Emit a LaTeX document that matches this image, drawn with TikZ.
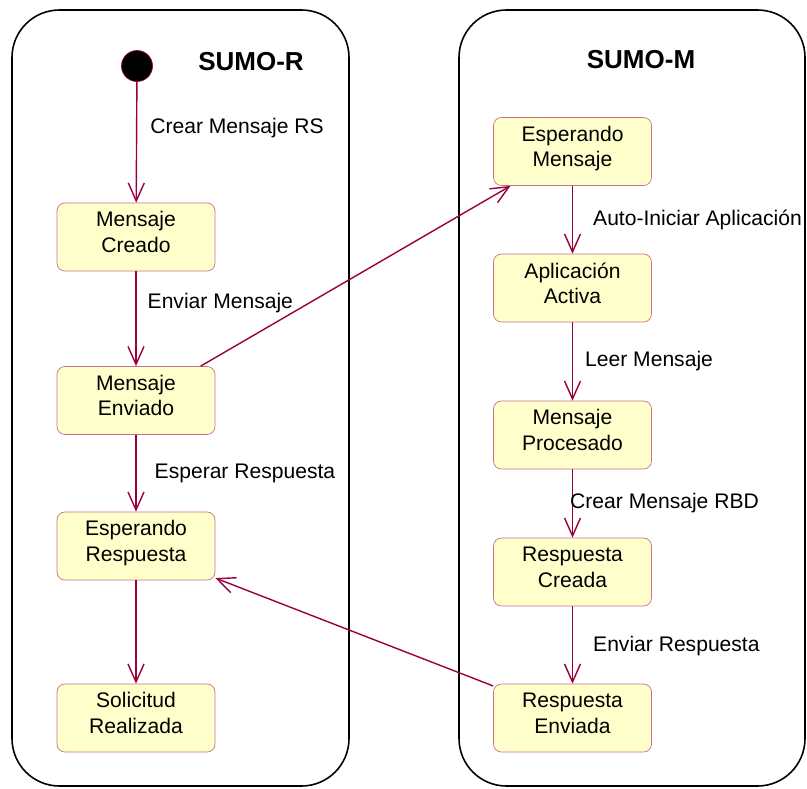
\documentclass[tikz,border=0pt]{standalone}
\usepackage{fontspec}
\setmainfont{Liberation Sans}
\usepackage{xcolor}
\usetikzlibrary{arrows.meta}
\definecolor{transred}{HTML}{99003D}
\definecolor{stateborder}{HTML}{C8708A}
\definecolor{statefill}{HTML}{FFFFCC}
\tikzstyle{statebox} = [draw=stateborder, fill=statefill, rectangle,
rounded corners=4.5pt, minimum width=3.16cm, minimum height=1.36cm,
align=center, inner sep=0pt, text depth=0.2cm, font=\fontsize{12}{14.5}\selectfont]
\tikzstyle{initdot} = [circle, fill=black, draw=transred, minimum size=0.62cm, inner sep=0pt]
\tikzstyle{trans} = [draw=transred, line width=0.8pt, -{Straight Barb[length=0.36cm, width=0.32cm]}]
\tikzstyle{translabel} = [anchor=west, inner sep=0pt, font=\fontsize{12}{14}\selectfont]
\tikzstyle{swimlane} = [draw=black, line width=0.9pt, rounded corners=0.95cm]
\tikzstyle{lanetitle} = [font=\fontsize{14.8}{16}\selectfont\bfseries]

\begin{document}
\begin{tikzpicture}[x=0.02cm, y=-0.02cm]
        \useasboundingbox (0,0) rectangle (807,788);
        % the two regions
        \draw[swimlane] (12,10) rectangle (349,786);
        \draw[swimlane] (459,10) rectangle (805,786);
        \node[lanetitle] (titleR) at (251,62) {SUMO-R};
        \node[lanetitle] (titleM) at (641,60) {SUMO-M};

        % SUMO-R states
        \node[initdot] (init) at (137,66) {};
        \node[statebox] (creado) at (136,237) {Mensaje\\Creado};
        \node[statebox] (enviado) at (136,400.5) {Mensaje\\Enviado};
        \node[statebox] (espR) at (136,546) {Esperando\\Respuesta};
        \node[statebox] (solicitud) at (136,718) {Solicitud\\Realizada};

        % SUMO-M states
        \node[statebox] (espM) at (572.5,151.5) {Esperando\\Mensaje};
        \node[statebox] (activa) at (572.5,288) {Aplicación\\Activa};
        \node[statebox] (procesado) at (572.5,435) {Mensaje\\Procesado};
        \node[statebox] (creada) at (572.5,572) {Respuesta\\Creada};
        \node[statebox] (enviada) at (572.5,718) {Respuesta\\Enviada};

        % transitions
        \draw[trans] (init) -- node[translabel, pos=0.385, xshift=0.26cm] {Crear Mensaje RS} (creado);
        \draw[trans] (creado) -- node[translabel, pos=0.33, xshift=0.22cm] {Enviar Mensaje} (enviado);
        \draw[trans] (enviado) -- node[translabel, pos=0.5, xshift=0.36cm] {Esperar Respuesta} (espR);
        \draw[trans] (espR) -- (solicitud);
        \draw[trans] (espM) -- node[translabel, pos=0.5, xshift=0.4cm] {Auto-Iniciar Aplicación} (activa);
        \draw[trans] (activa) -- node[translabel, pos=0.5, xshift=0.24cm] {Leer Mensaje} (procesado);
        \draw[trans] (procesado) -- node[translabel, pos=0.5, xshift=-0.06cm] {Crear Mensaje RBD} (creada);
        \draw[trans] (creada) -- node[translabel, pos=0.51, xshift=0.4cm] {Enviar Respuesta} (enviada);
        \draw[trans] (enviado.28) -- (espM.209);
        \draw[trans] (enviada.158) -- (espR.338);
    \end{tikzpicture}
\end{document}
